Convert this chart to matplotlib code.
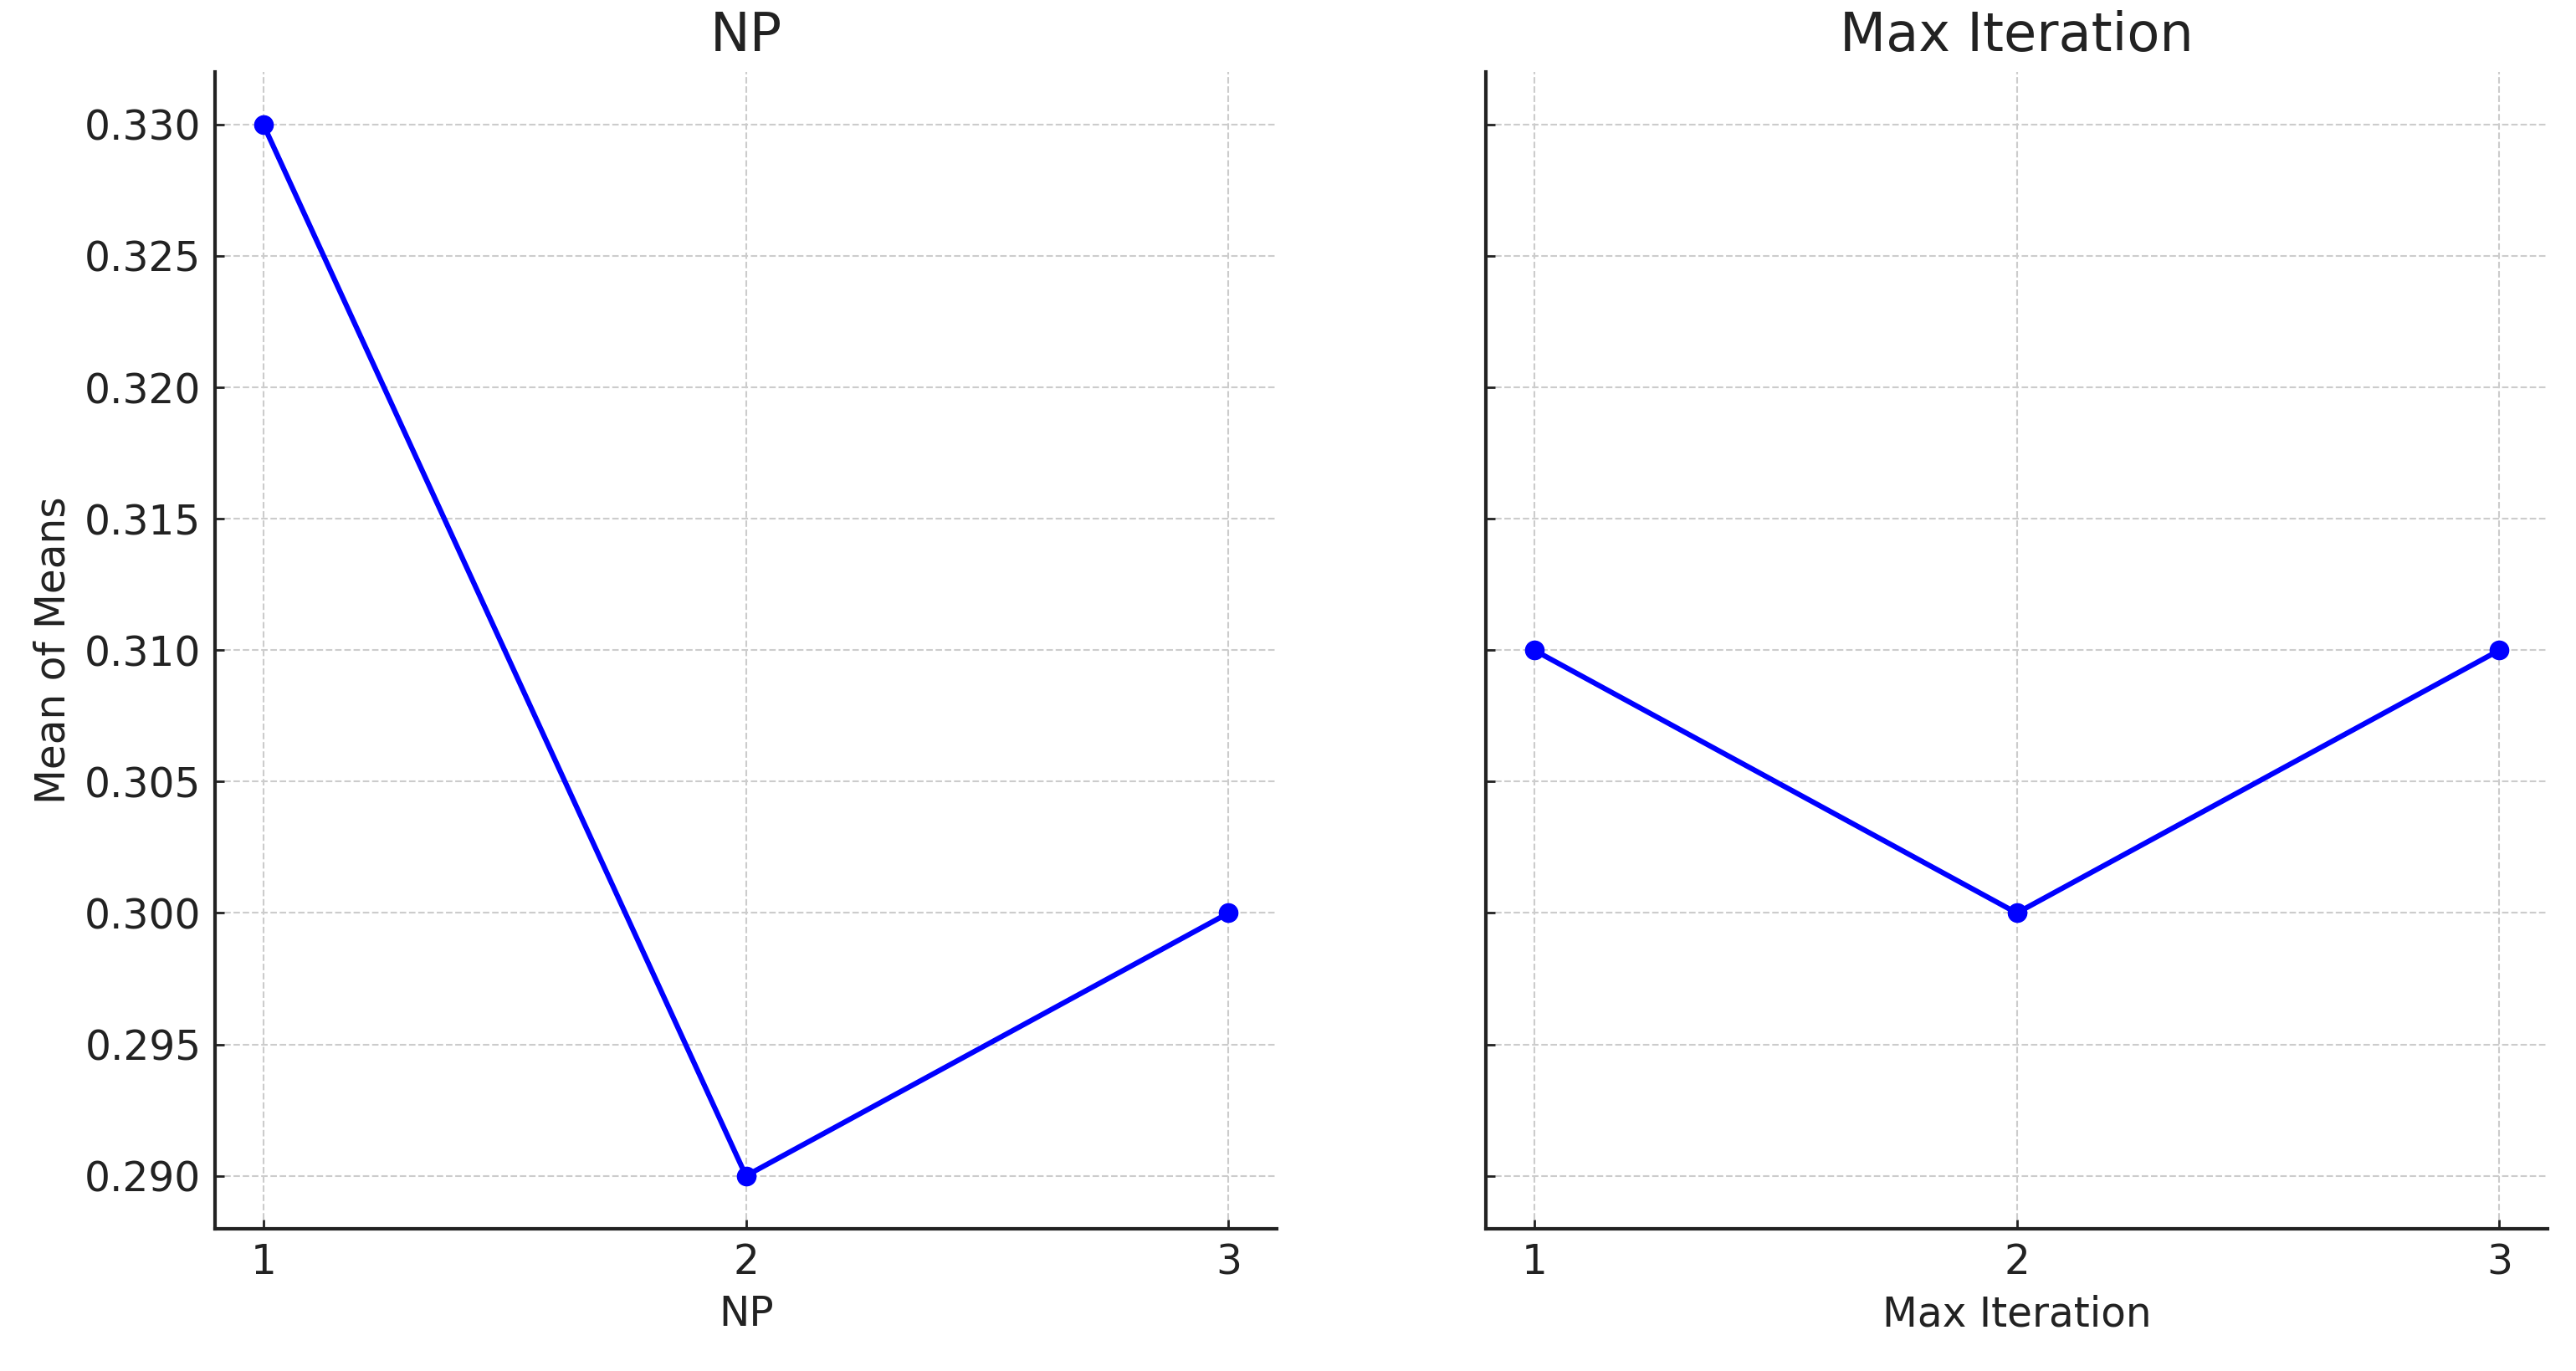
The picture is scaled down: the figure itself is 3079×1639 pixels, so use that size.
import matplotlib
matplotlib.use("Agg")
import matplotlib.pyplot as plt

levels = [1, 2, 3]
np_means = [0.330, 0.290, 0.300]
iter_means = [0.310, 0.300, 0.310]
panels = [("NP", np_means), ("Max Iteration", iter_means)]
yticks = [0.290, 0.295, 0.300, 0.305, 0.310, 0.315, 0.320, 0.325, 0.330]

plt.rcParams['font.family'] = ['DejaVu Sans']
fig, axes = plt.subplots(1, 2, figsize=(30.79, 16.39), dpi=100, sharey=True)
fig.subplots_adjust(left=0.0835, right=0.989, bottom=0.104, top=0.9475, wspace=0.197)

for ax, (name, vals) in zip(axes, panels):
    ax.plot(levels, vals, color='blue', marker='o', linewidth=4.5, markersize=16)
    ax.set_title(name, fontsize=46, color='#222222', pad=18)
    ax.set_xlabel(name, fontsize=35, color='#222222', labelpad=10)
    ax.set_xticks(levels)
    ax.set_yticks(yticks)
    ax.grid(True, linestyle='--', color='#cccccc', linewidth=1.5)
    ax.tick_params(direction='in', length=8, width=2, labelsize=35,
                   colors='#222222', pad=12)
    for s in ['top', 'right']:
        ax.spines[s].set_visible(False)
    for s in ['left', 'bottom']:
        ax.spines[s].set_linewidth(3)
        ax.spines[s].set_color('#222222')

axes[0].set_ylabel("Mean of Means", fontsize=35, color='#222222', labelpad=10)
axes[0].yaxis.set_major_formatter(matplotlib.ticker.FormatStrFormatter('%.3f'))

fig.savefig("out.png", dpi=100, facecolor='white')
